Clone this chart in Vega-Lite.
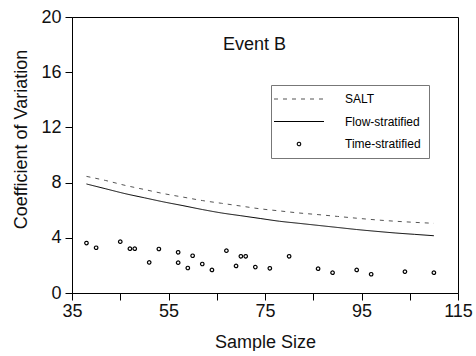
{
  "$schema": "https://vega.github.io/schema/vega-lite/v6.json",
  "width": 386,
  "height": 276,
  "autosize": {"type": "pad"},
  "padding": {"left": 11, "top": 8, "right": 0, "bottom": 0},
  "background": "white",
  "title": {
    "text": "Event B",
    "anchor": "start",
    "frame": "group",
    "baseline": "alphabetic",
    "dx": 151,
    "offset": -60,
    "font": "Liberation Sans",
    "fontSize": 18,
    "fontWeight": "normal",
    "color": "#111"
  },
  "config": {
    "font": "Liberation Sans",
    "view": {"stroke": "black", "strokeWidth": 1},
    "axis": {
      "grid": false,
      "domainColor": "black",
      "domainWidth": 1,
      "tickColor": "black",
      "tickWidth": 1,
      "labelColor": "#111",
      "labelFont": "Liberation Sans",
      "labelFontSize": 18,
      "labelFlush": false,
      "labelOverlap": false,
      "titleFont": "Liberation Sans",
      "titleFontSize": 18,
      "titleFontWeight": "normal",
      "titleColor": "#111"
    },
    "legend": {
      "orient": "none",
      "legendX": 199,
      "legendY": 68,
      "direction": "vertical",
      "symbolSize": 100,
      "symbolStrokeWidth": 1.1,
      "symbolFillColor": "white",
      "symbolOffset": 14,
      "labelOffset": 40,
      "labelFont": "Liberation Sans",
      "labelFontSize": 12,
      "labelColor": "black",
      "padding": 8,
      "rowPadding": 10.5,
      "strokeColor": "#777",
      "fillColor": "white"
    }
  },
  "data": {
    "values": [
      {"n": 38, "cv": 8.45, "series": "SALT"},
      {"n": 42, "cv": 8.15, "series": "SALT"},
      {"n": 46, "cv": 7.8, "series": "SALT"},
      {"n": 50, "cv": 7.5, "series": "SALT"},
      {"n": 54, "cv": 7.2, "series": "SALT"},
      {"n": 58, "cv": 6.95, "series": "SALT"},
      {"n": 62, "cv": 6.7, "series": "SALT"},
      {"n": 66, "cv": 6.5, "series": "SALT"},
      {"n": 70, "cv": 6.3, "series": "SALT"},
      {"n": 74, "cv": 6.1, "series": "SALT"},
      {"n": 78, "cv": 5.95, "series": "SALT"},
      {"n": 82, "cv": 5.8, "series": "SALT"},
      {"n": 86, "cv": 5.68, "series": "SALT"},
      {"n": 90, "cv": 5.55, "series": "SALT"},
      {"n": 94, "cv": 5.42, "series": "SALT"},
      {"n": 98, "cv": 5.3, "series": "SALT"},
      {"n": 102, "cv": 5.2, "series": "SALT"},
      {"n": 106, "cv": 5.12, "series": "SALT"},
      {"n": 110, "cv": 5.05, "series": "SALT"},
      {"n": 38, "cv": 7.9, "series": "Flow-stratified"},
      {"n": 42, "cv": 7.55, "series": "Flow-stratified"},
      {"n": 46, "cv": 7.2, "series": "Flow-stratified"},
      {"n": 50, "cv": 6.9, "series": "Flow-stratified"},
      {"n": 54, "cv": 6.6, "series": "Flow-stratified"},
      {"n": 58, "cv": 6.33, "series": "Flow-stratified"},
      {"n": 62, "cv": 6.05, "series": "Flow-stratified"},
      {"n": 66, "cv": 5.8, "series": "Flow-stratified"},
      {"n": 70, "cv": 5.6, "series": "Flow-stratified"},
      {"n": 74, "cv": 5.4, "series": "Flow-stratified"},
      {"n": 78, "cv": 5.2, "series": "Flow-stratified"},
      {"n": 82, "cv": 5.05, "series": "Flow-stratified"},
      {"n": 86, "cv": 4.9, "series": "Flow-stratified"},
      {"n": 90, "cv": 4.75, "series": "Flow-stratified"},
      {"n": 94, "cv": 4.6, "series": "Flow-stratified"},
      {"n": 98, "cv": 4.47, "series": "Flow-stratified"},
      {"n": 102, "cv": 4.35, "series": "Flow-stratified"},
      {"n": 106, "cv": 4.25, "series": "Flow-stratified"},
      {"n": 110, "cv": 4.15, "series": "Flow-stratified"},
      {"n": 38, "cv": 3.62, "series": "Time-stratified"},
      {"n": 40, "cv": 3.28, "series": "Time-stratified"},
      {"n": 45, "cv": 3.72, "series": "Time-stratified"},
      {"n": 47, "cv": 3.21, "series": "Time-stratified"},
      {"n": 48, "cv": 3.21, "series": "Time-stratified"},
      {"n": 51, "cv": 2.22, "series": "Time-stratified"},
      {"n": 53, "cv": 3.19, "series": "Time-stratified"},
      {"n": 57, "cv": 2.95, "series": "Time-stratified"},
      {"n": 57, "cv": 2.2, "series": "Time-stratified"},
      {"n": 59, "cv": 1.81, "series": "Time-stratified"},
      {"n": 60, "cv": 2.7, "series": "Time-stratified"},
      {"n": 62, "cv": 2.1, "series": "Time-stratified"},
      {"n": 64, "cv": 1.67, "series": "Time-stratified"},
      {"n": 67, "cv": 3.07, "series": "Time-stratified"},
      {"n": 69, "cv": 1.96, "series": "Time-stratified"},
      {"n": 70, "cv": 2.66, "series": "Time-stratified"},
      {"n": 71, "cv": 2.66, "series": "Time-stratified"},
      {"n": 73, "cv": 1.88, "series": "Time-stratified"},
      {"n": 76, "cv": 1.79, "series": "Time-stratified"},
      {"n": 80, "cv": 2.66, "series": "Time-stratified"},
      {"n": 86, "cv": 1.76, "series": "Time-stratified"},
      {"n": 89, "cv": 1.47, "series": "Time-stratified"},
      {"n": 94, "cv": 1.67, "series": "Time-stratified"},
      {"n": 97, "cv": 1.36, "series": "Time-stratified"},
      {"n": 104, "cv": 1.55, "series": "Time-stratified"},
      {"n": 110, "cv": 1.47, "series": "Time-stratified"}
    ]
  },
  "encoding": {
    "x": {
      "field": "n",
      "type": "quantitative",
      "scale": {"domain": [35, 115], "nice": false, "zero": false},
      "axis": {
        "title": "Sample Size",
        "values": [35, 45, 55, 65, 75, 85, 95, 105, 115],
        "labelExpr": "datum.value % 20 === 15 ? datum.label : ''",
        "tickSize": 7,
        "labelPadding": 2,
        "titleY": 54,
        "titleBaseline": "alphabetic"
      }
    },
    "y": {
      "field": "cv",
      "type": "quantitative",
      "scale": {"domain": [0, 20], "nice": false},
      "axis": {
        "title": "Coefficient of Variation",
        "values": [0, 4, 8, 12, 16, 20],
        "tickSize": 7,
        "labelPadding": 4,
        "titleX": -46,
        "titleY": 122,
        "titleBaseline": "alphabetic"
      }
    },
    "color": {
      "field": "series",
      "type": "nominal",
      "scale": {"domain": ["SALT", "Flow-stratified", "Time-stratified"], "range": ["#555", "black", "black"]},
      "legend": {"title": null, "labelExpr": "datum.label + '\u00a0\u00a0\u00a0\u00a0'"}
    },
    "strokeDash": {
      "field": "series",
      "type": "nominal",
      "scale": {"domain": ["SALT", "Flow-stratified", "Time-stratified"], "range": [[4, 5], [1, 0], [1, 0]]},
      "legend": {"title": null, "labelExpr": "datum.label + '\u00a0\u00a0\u00a0\u00a0'"}
    }
  },
  "layer": [
    {
      "transform": [{"filter": "datum.series !== 'Time-stratified'"}],
      "mark": {"type": "line", "strokeWidth": 1, "interpolate": "monotone"}
    },
    {
      "transform": [{"filter": "datum.series === 'Time-stratified'"}],
      "mark": {"type": "point", "filled": false, "size": 100, "strokeWidth": 1.2, "opacity": 1},
      "encoding": {
        "shape": {
          "field": "series",
          "type": "nominal",
          "scale": {
            "domain": ["SALT", "Flow-stratified", "Time-stratified"],
            "range": ["M -5,0 L 5,0", "M -5,0 L 5,0", "M -0.35,0 A 0.35,0.35 0 1,0 0.35,0 A 0.35,0.35 0 1,0 -0.35,0 Z"]
          },
          "legend": {"title": null, "labelExpr": "datum.label + '\u00a0\u00a0\u00a0\u00a0'"}
        }
      }
    }
  ]
}
